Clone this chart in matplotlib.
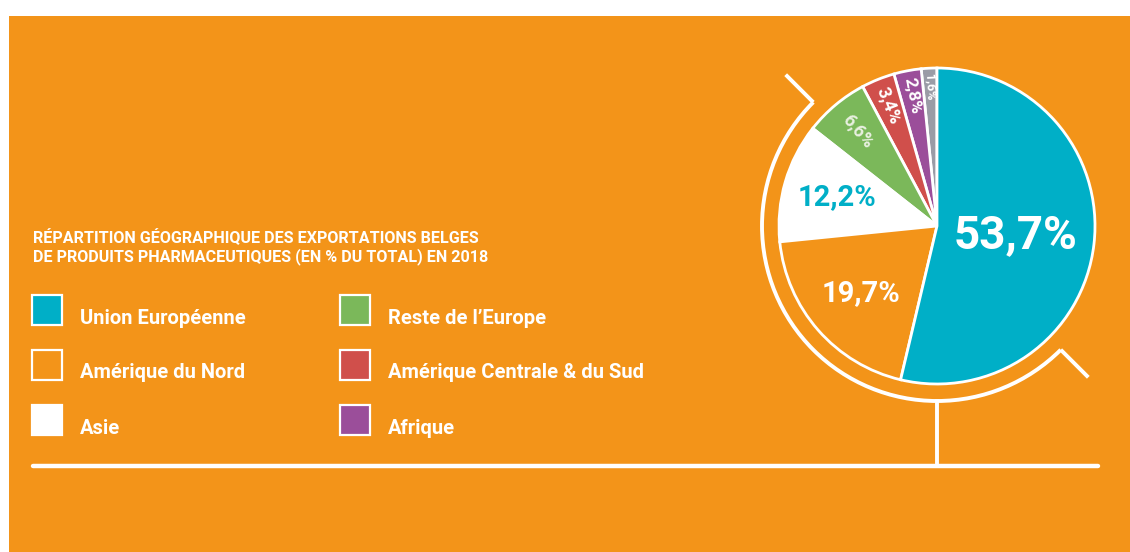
import numpy as np
import matplotlib
matplotlib.use("Agg")
import matplotlib.pyplot as plt
from matplotlib.patches import Rectangle, Arc

# data
regions = ["Autres", "Afrique", "Amérique Centrale & du Sud", "Reste de l'Europe",
           "Asie", "Amérique du Nord", "Union Européenne"]
shares = [1.6, 2.8, 3.4, 6.6, 12.2, 19.7, 53.7]
share_labels = ["1,6%", "2,8%", "3,4%", "6,6%", "12,2%", "19,7%", "53,7%"]
colors = ["#9A9CA6", "#9B4E9A", "#D04F4B", "#7BB85A", "#FFFFFF", "#F39419", "#00AFC7"]

legend_left = ["Union Européenne", "Amérique du Nord", "Asie"]
legend_right = ["Reste de l\u2019Europe", "Amérique Centrale & du Sud", "Afrique"]
color_of = dict(zip(regions, colors))
color_of["Reste de l\u2019Europe"] = color_of["Reste de l'Europe"]

title = ("RÉPARTITION GÉOGRAPHIQUE DES EXPORTATIONS BELGES\n"
         "DE PRODUITS PHARMACEUTIQUES (EN % DU TOTAL) EN 2018")

BG = "#F39419"
W, H = 1130, 552

fig = plt.figure(figsize=(W / 100, H / 100), dpi=100)
fig.patch.set_facecolor("white")
ax = fig.add_axes([0, 0, 1, 1])

def Y(y):
    # image row -> data y
    return H - y

# orange panel
ax.add_patch(Rectangle((9, 0), W - 9, Y(16), facecolor=BG, edgecolor="none", zorder=0))

# title + legend
lab_font = ["Roboto", "DejaVu Sans"]
ax.text(33, Y(229), title, color="white", fontsize=11.6, fontweight="bold",
        family=lab_font, va="top", ha="left", linespacing=1.15)

rows = [310, 365, 420]
for col_x, names in [(32, legend_left), (340, legend_right)]:
    for y, name in zip(rows, names):
        ax.add_patch(Rectangle((col_x, Y(y + 15)), 30, 30, facecolor=color_of[name],
                               edgecolor="white", linewidth=1.6, zorder=2))
        ax.text(col_x + 48, Y(y + 8), name, color="white", fontsize=14.5,
                fontweight="bold", family=lab_font, va="center", ha="left")

# globe stand
cx, cy = 937, Y(226)
r = 158
ring = 175
ax.add_patch(Arc((cx, cy), 2 * ring, 2 * ring, theta1=135, theta2=315,
                 color="white", linewidth=2.8, zorder=3))
for a in (135, 315):
    t = np.deg2rad(a)
    ax.plot([cx + ring * np.cos(t), cx + 214 * np.cos(t)],
            [cy + ring * np.sin(t), cy + 214 * np.sin(t)],
            color="white", linewidth=2.8, solid_capstyle="butt", zorder=3)
ax.plot([cx, cx], [cy - ring, Y(466)], color="white", linewidth=2.8, zorder=3)
ax.plot([33, 1098], [Y(466), Y(466)], color="white", linewidth=3.2,
        solid_capstyle="round", zorder=3)

# pie
wedges, _ = ax.pie(shares, colors=colors, startangle=90, counterclock=True,
                   center=(cx, cy), radius=r, frame=True,
                   wedgeprops=dict(edgecolor="white", linewidth=2))
ax.set_xlim(0, W)
ax.set_ylim(0, H)
ax.set_aspect("equal")
ax.axis("off")

num_font = ["Roboto", "DejaVu Sans"]
# (radius fraction, fontsize, color, rotate)
label_style = [
    (0.88, 9, "white", True),
    (0.84, 12.5, "white", True),
    (0.82, 13, "white", True),
    (0.78, 13, "#E8F0E0", True),
    (0.66, 21, "#00AFC7", False),
    (0.64, 21, "white", False),
    (0.50, 33, "white", False),
]
for w, txt, (rf, fs, c, rot) in zip(wedges, share_labels, label_style):
    mid = (w.theta1 + w.theta2) / 2
    t = np.deg2rad(mid)
    x = cx + rf * r * np.cos(t)
    y = cy + rf * r * np.sin(t)
    ax.text(x, y, txt, color=c, fontsize=fs, fontweight="bold", family=num_font,
            ha="center", va="center", rotation=(mid - 180) if rot else 0,
            rotation_mode="anchor", zorder=5)

fig.savefig("out.png", dpi=100, facecolor=fig.get_facecolor())
